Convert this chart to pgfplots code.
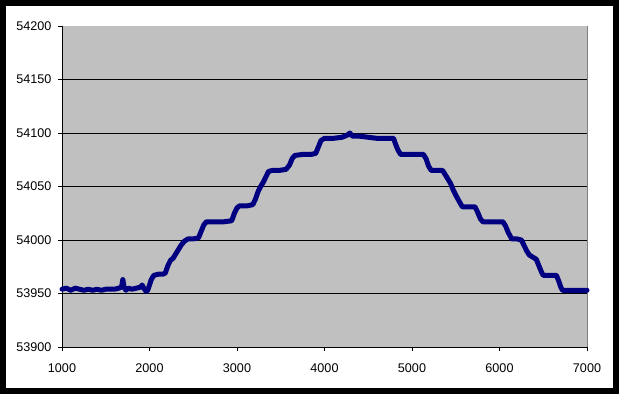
\documentclass[border=0pt]{standalone}
\usepackage{pgfplots}
\pgfplotsset{compat=1.18}
\usepackage{fontspec}
\setmainfont{Liberation Sans}
\definecolor{plotgray}{HTML}{C0C0C0}
\definecolor{navyline}{HTML}{000080}
\definecolor{bordergray}{HTML}{808080}
\pgfplotstableread{
x y
1000 53954
1050 53955
1100 53953
1150 53955
1200 53954
1250 53953
1300 53954
1350 53953
1400 53954
1450 53953
1500 53954
1550 53954
1600 53954
1650 53955
1680 53956
1695 53963
1710 53956
1730 53953
1760 53955
1800 53954
1850 53955
1900 53956
1915 53958
1935 53955
1960 53952
1980 53953
2000 53958
2020 53963
2050 53967
2100 53968
2150 53968
2180 53969
2210 53976
2240 53981
2270 53983
2300 53987
2330 53991
2360 53995
2400 53999
2440 54001
2500 54001
2560 54002
2590 54008
2620 54014
2650 54017
2750 54017
2850 54017
2940 54018
2970 54025
3000 54030
3030 54032
3120 54032
3180 54033
3210 54038
3240 54045
3270 54050
3300 54054
3330 54059
3360 54064
3400 54065
3480 54065
3560 54066
3600 54070
3630 54076
3660 54079
3750 54080
3850 54080
3900 54081
3930 54087
3960 54093
4000 54095
4100 54095
4200 54096
4260 54098
4290 54100
4320 54097
4400 54097
4500 54096
4600 54095
4700 54095
4790 54095
4810 54090
4840 54084
4870 54080
4950 54080
5050 54080
5130 54080
5160 54076
5190 54069
5220 54065
5300 54065
5350 54065
5380 54061
5410 54057
5440 54053
5470 54047
5500 54042
5540 54036
5575 54031
5650 54031
5720 54031
5750 54026
5780 54020
5810 54017
5900 54017
6040 54017
6070 54013
6100 54007
6140 54001
6200 54001
6250 54000
6280 53995
6310 53990
6340 53986
6380 53984
6420 53982
6450 53976
6480 53970
6500 53967
6580 53967
6650 53967
6680 53961
6700 53956
6720 53953
6800 53953
6900 53953
7000 53953
}\datatable
\begin{document}
\begin{tikzpicture}[x=1pt,y=1pt]
\fill[black] (0,0) rectangle (619,394);
\fill[white] (6,6) rectangle (613,388);
\begin{axis}[
  at={(62pt,47pt)}, anchor=south west,
  scale only axis, width=525pt, height=321pt,
  xmin=1000, xmax=7000, ymin=53900, ymax=54200,
  xtick={1000,2000,...,7000},
  ytick={53900,53950,...,54200},
  scaled x ticks=false, scaled y ticks=false,
  axis background/.style={fill=plotgray},
  axis x line*=bottom, axis y line*=left,
  axis line style={black, line width=1pt, -},
  tick align=outside, major tick length=4pt,
  tick style={black, line width=1pt},
  /pgf/number format/1000 sep={},
  /pgf/number format/assume math mode=true,
  tick label style={font=\fontsize{12.6}{14}\selectfont},
  xticklabel style={yshift=-9pt},
  yticklabel style={xshift=-3pt},
  clip=false,
]
\foreach \g in {53950,54000,54050,54100,54150} {
  \edef\temp{\noexpand\draw[black, line width=1pt] (axis cs:1000,\g) -- (axis cs:7000,\g);}
  \temp
}
\draw[bordergray, line width=1pt] (rel axis cs:1,0) -- (rel axis cs:1,1);
\addplot[navyline, line width=5pt, line join=round, line cap=round, mark=none] table[x=x,y=y] {\datatable};
\end{axis}
\end{tikzpicture}
\end{document}
